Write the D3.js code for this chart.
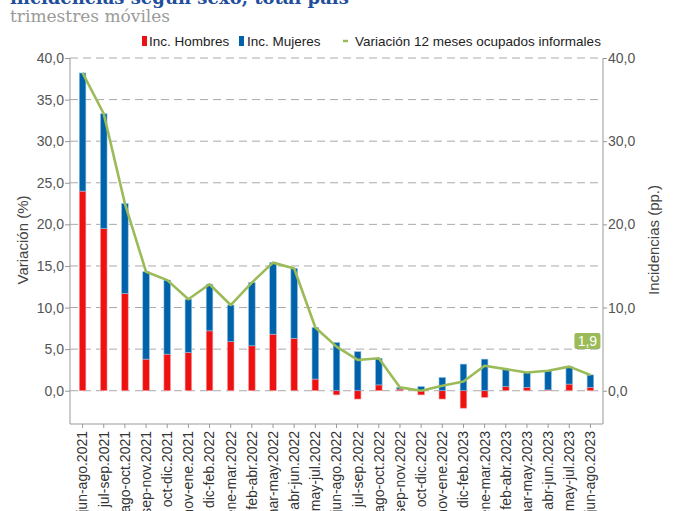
<!DOCTYPE html>
<head>
  <meta charset="utf-8">
  <script src="https://d3js.org/d3.v7.min.js"></script>
  <style>
body {
	margin:0;
	background:#fff;
	}
.tick text {
	font-family: "Liberation Sans", Arial, sans-serif;
	font-size: 14px;
	fill: #555;
	}
.lbl {
	font-family: "Liberation Sans", Arial, sans-serif;
	font-size: 13.5px;
	fill: #222;
	}
  </style>
</head>

<body>
<div id="graph"></div>
<script>
// categories (trimestres moviles)
var periodos = ["jun-ago.2021","jul-sep.2021","ago-oct.2021","sep-nov.2021","oct-dic.2021","nov-ene.2021",
  "dic-feb.2022","ene-mar.2022","feb-abr.2022","mar-may.2022","abr-jun.2022","may-jul.2022",
  "jun-ago.2022","jul-sep.2022","ago-oct.2022","sep-nov.2022","oct-dic.2022","nov-ene.2022",
  "dic-feb.2023","ene-mar.2023","feb-abr.2023","mar-may.2023","abr-jun.2023","may-jul.2023","jun-ago.2023"];

// incidencias (pp.)
var incHombres = [24.0,19.5,11.7,3.8,4.4,4.6,7.2,5.9,5.4,6.8,6.3,1.4,-0.5,-1.0,0.7,0.2,-0.5,-1.0,-2.1,-0.8,0.5,0.4,0.1,0.8,0.4];
var incMujeres = [14.2,13.8,10.8,10.5,8.9,6.4,5.6,4.4,7.6,8.6,8.4,6.2,5.8,4.7,3.2,0.2,0.5,1.6,3.2,3.8,2.1,1.8,2.3,2.1,1.5];

// variacion 12 meses ocupados informales (%)
var variacion = [38.2,33.3,22.5,14.3,13.3,11.0,12.8,10.3,13.0,15.4,14.7,7.6,5.3,3.7,3.9,0.4,0.0,0.6,1.1,3.0,2.6,2.2,2.4,2.9,1.9];

var leftTicks = [0,5,10,15,20,25,30,35,40];
var rightTicks = [0,10,20,30,40];

var W = 676, H = 511;
var plot = {left: 70, right: 603, top: 58, bottom: 424};

var fmt = function(v) { return d3.format(".1f")(v).replace(".", ","); };

var svg = d3.select("#graph").append("svg")
    .attr("width", W).attr("height", H)
    .style("display", "block");

// title (first line is cut off at the top of the picture)
svg.append("text")
    .attr("x", 10).attr("y", 4)
    .style("font-family", "'DejaVu Serif', serif")
    .style("font-weight", "bold")
    .style("font-size", "18px")
    .style("fill", "#1f4e9c")
    .text("incidencias según sexo, total país");
svg.append("text")
    .attr("x", 10).attr("y", 22)
    .style("font-family", "'DejaVu Serif', serif")
    .style("font-size", "17px")
    .style("fill", "#9a9a9a")
    .text("trimestres móviles");

var x = d3.scaleBand().domain(periodos).range([72, 601]);
var y = d3.scaleLinear().domain([-4, 40]).range([plot.bottom, plot.top]);
var cx = function(p) { return x(p) + x.bandwidth() / 2; };

// dashed grid
svg.append("g").selectAll("line")
    .data(leftTicks)
    .enter().append("line")
    .attr("x1", plot.left).attr("x2", plot.right)
    .attr("y1", function(d) { return y(d); })
    .attr("y2", function(d) { return y(d); })
    .style("stroke", "#aaa")
    .style("stroke-dasharray", "8,5")
    .style("stroke-width", 1);

// axes
var yLeft = svg.append("g")
    .attr("transform", "translate(" + plot.left + ",0)")
    .call(d3.axisLeft(y).tickValues(leftTicks).tickFormat(fmt).tickSize(5).tickPadding(1));
var yRight = svg.append("g")
    .attr("transform", "translate(" + plot.right + ",0)")
    .call(d3.axisRight(y).tickValues(rightTicks).tickFormat(fmt).tickSize(4).tickPadding(1));
[yLeft, yRight].forEach(function(a) {
  a.select(".domain").remove();
  a.selectAll(".tick line").style("stroke", "#999");
});
svg.append("line").attr("x1", plot.left).attr("x2", plot.left)
    .attr("y1", plot.top).attr("y2", plot.bottom).style("stroke", "#999");
svg.append("line").attr("x1", plot.right).attr("x2", plot.right)
    .attr("y1", plot.top).attr("y2", plot.bottom).style("stroke", "#999");
svg.append("line").attr("x1", plot.left).attr("x2", plot.right)
    .attr("y1", plot.bottom).attr("y2", plot.bottom).style("stroke", "#999");

// x labels, rotated
var xaxis = svg.append("g")
    .attr("transform", "translate(0," + plot.bottom + ")")
    .call(d3.axisBottom(x).tickSize(4).tickPadding(0));
xaxis.select(".domain").remove();
xaxis.selectAll(".tick line").style("stroke", "#999");
xaxis.selectAll(".tick text")
    .attr("transform", "rotate(-90)")
    .attr("x", -7).attr("y", 0).attr("dy", "0.35em")
    .style("text-anchor", "end")
    .style("font-size", "14px")
    .style("fill", "#333");

// axis titles
svg.append("text").attr("class", "lbl")
    .attr("transform", "translate(28,240) rotate(-90)")
    .style("text-anchor", "middle").style("font-size", "15px").style("fill", "#444")
    .text("Variación (%)");
svg.append("text").attr("class", "lbl")
    .attr("transform", "translate(659,240) rotate(-90)")
    .style("text-anchor", "middle").style("font-size", "15px").style("fill", "#444")
    .text("Incidencias (pp.)");

// stacked bars (diverging)
var rows = periodos.map(function(p, i) { return {p: p, h: incHombres[i], m: incMujeres[i]}; });
var series = d3.stack().keys(["h", "m"]).offset(d3.stackOffsetDiverging)(rows);
var colors = {h: "#ee1111", m: "#0062a8"};
var edges = {h: "#f6a0a0", m: "#8fc0e6"};
var bw = 6.6;

svg.append("g").selectAll("g")
    .data(series)
    .enter().append("g")
    .style("fill", function(s) { return colors[s.key]; })
    .style("stroke", function(s) { return edges[s.key]; })
    .style("stroke-width", 0.6)
    .selectAll("rect")
    .data(function(s) { return s; })
    .enter().append("rect")
    .attr("x", function(d) { return cx(d.data.p) - bw / 2; })
    .attr("width", bw)
    .attr("y", function(d) { return y(Math.max(d[0], d[1])); })
    .attr("height", function(d) { return Math.abs(y(d[0]) - y(d[1])); });

// line
var line = d3.line()
    .x(function(d, i) { return cx(periodos[i]); })
    .y(function(d) { return y(d); });
svg.append("path")
    .datum(variacion)
    .attr("d", line)
    .style("fill", "none")
    .style("stroke", "#9bbb59")
    .style("stroke-width", 2.6)
    .style("stroke-linejoin", "round");

// last value label
var last = variacion.length - 1;
var lx = cx(periodos[last]) - 3, ly = y(variacion[last]) - 34;
svg.append("rect")
    .attr("x", lx - 13).attr("y", ly - 8)
    .attr("width", 26).attr("height", 16).attr("rx", 2)
    .style("fill", "#9bbb59");
svg.append("text").attr("class", "lbl")
    .attr("x", lx).attr("y", ly).attr("dy", "0.36em")
    .style("text-anchor", "middle").style("fill", "#fff").style("font-size", "14px")
    .text(fmt(variacion[last]));

// legend
var leg = svg.append("g").attr("transform", "translate(0,41)");
leg.append("rect").attr("x", 142).attr("y", -5).attr("width", 5).attr("height", 10).style("fill", colors.h);
leg.append("text").attr("class", "lbl").attr("x", 149).attr("dy", "0.35em").text("Inc. Hombres");
leg.append("rect").attr("x", 239).attr("y", -5).attr("width", 5).attr("height", 10).style("fill", colors.m);
leg.append("text").attr("class", "lbl").attr("x", 247).attr("dy", "0.35em").text("Inc. Mujeres");
leg.append("line").attr("x1", 343).attr("x2", 348).attr("y1", 0).attr("y2", 0)
    .style("stroke", "#9bbb59").style("stroke-width", 2.5);
leg.append("text").attr("class", "lbl").attr("x", 355).attr("dy", "0.35em").text("Variación 12 meses ocupados informales");
</script>
</body>
